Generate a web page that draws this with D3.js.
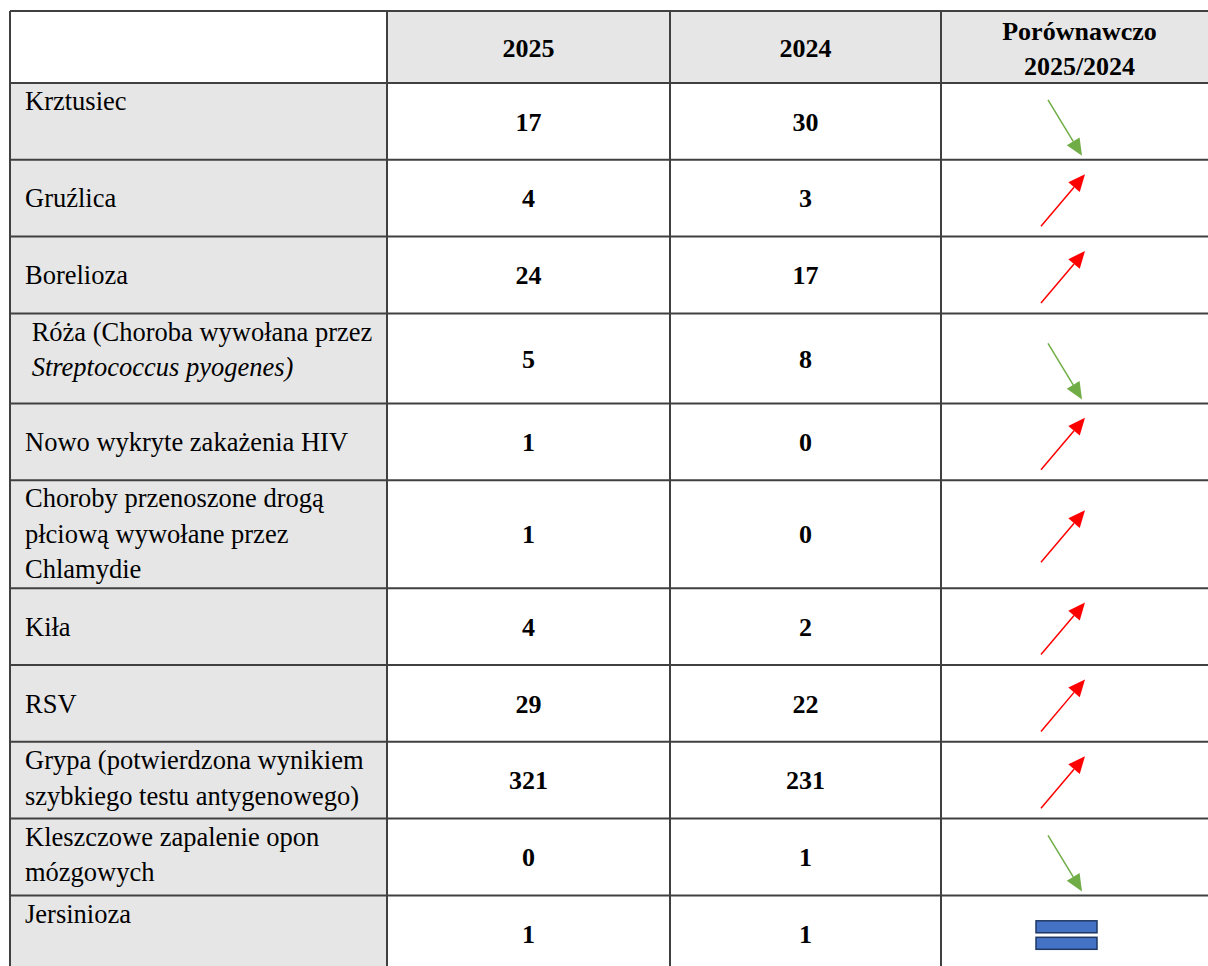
<!DOCTYPE html>
<html>
<head>
<meta charset="utf-8">
<script src="https://cdn.jsdelivr.net/npm/d3@7"></script>
<style>
  html, body { margin: 0; padding: 0; background: #fff; }
  svg text { font-family: "Liberation Serif", "Times New Roman", serif; white-space: pre; }
</style>
</head>
<body>
<svg id="tabela"></svg>
<script>
// dane z tabeli
const headers = ["", "2025", "2024", ["Porównawczo", "2025/2024"]];

// linie etykiet (prefiks "_" = kursywa)
const categoryLines = [
  ["Krztusiec"],
  ["Gruźlica"],
  ["Borelioza"],
  [" Róża (Choroba wywołana przez", "_ Streptococcus pyogenes)"],
  ["Nowo wykryte zakażenia HIV"],
  ["Choroby przenoszone drogą", "płciową wywołane przez", "Chlamydie"],
  ["Kiła"],
  ["RSV"],
  ["Grypa (potwierdzona wynikiem", "szybkiego testu antygenowego)"],
  ["Kleszczowe zapalenie opon", "mózgowych"],
  ["Jersinioza"]
];
const values2025 = [17, 4, 24, 5, 1, 1, 4, 29, 321, 0, 1];
const values2024 = [30, 3, 17, 8, 0, 0, 2, 22, 231, 1, 1];

const width = 1208;
const height = 966;

const svg = d3.select("#tabela").attr("width", width).attr("height", height);

// układ kolumn i wierszy
const colEdges = [10, 387, 670, 941, 1218];
const headerHeight = 72;
const rowHeights = categoryLines.map(l => l.length === 3 ? 108 : (l[0].startsWith(" ") ? 90 : 76.8));
const rowTops = [11 + headerHeight, ...d3.cumsum(rowHeights).map(h => 11 + headerHeight + h)];

const colX = d3.scaleOrdinal().domain([0, 1, 2, 3]).range(colEdges.slice(0, 4));
const colW = i => colEdges[i + 1] - colEdges[i];
const rowY = d3.scaleOrdinal().domain(d3.range(categoryLines.length)).range(rowTops);

const gray = "#e6e6e6";
const border = "#404040";
const lineH = 35.5;
const topAligned = new Set(["Krztusiec", "Jersinioza"]);

// tło nagłówka
svg.selectAll("rect.head")
  .data(d3.range(4))
  .enter()
  .append("rect")
  .attr("x", i => colX(i))
  .attr("y", 11)
  .attr("width", i => colW(i))
  .attr("height", headerHeight)
  .attr("fill", i => i === 0 ? "#fff" : gray);

// tło kolumny z nazwami
svg.selectAll("rect.lab")
  .data(categoryLines)
  .enter()
  .append("rect")
  .attr("x", colX(0))
  .attr("y", (d, i) => rowY(i))
  .attr("width", colW(0))
  .attr("height", (d, i) => rowHeights[i])
  .attr("fill", gray);

// teksty nagłówka
headers.forEach((h, i) => {
  if (!h) return;
  const lines = Array.isArray(h) ? h : [h];
  const cy = 11 + headerHeight / 2 + 1;
  lines.forEach((t, j) => {
    svg.append("text")
      .attr("x", colX(i) + colW(i) / 2)
      .attr("y", cy + (j - (lines.length - 1) / 2) * 35)
      .attr("dy", "0.35em")
      .attr("text-anchor", "middle")
      .attr("font-size", 26)
      .attr("font-weight", "bold")
      .text(t);
  });
});

// etykiety wierszy
categoryLines.forEach((lines, i) => {
  const top = rowY(i);
  const h = rowHeights[i];
  const centered = lines.length === 1 && !topAligned.has(lines[0]);
  lines.forEach((t, j) => {
    const italic = t.startsWith("_");
    const y = centered ? top + h / 2 : top + 18 + j * lineH;
    svg.append("text")
      .attr("x", colX(0) + 15)
      .attr("y", y)
      .attr("dy", "0.35em")
      .attr("font-size", 26.5)
      .attr("font-style", italic ? "italic" : "normal")
      .text(italic ? t.slice(1) : t);
  });
});

// wartości liczbowe
[values2025, values2024].forEach((vals, c) => {
  svg.selectAll(null)
    .data(vals)
    .enter()
    .append("text")
    .attr("x", colX(c + 1) + colW(c + 1) / 2)
    .attr("y", (d, i) => rowY(i) + rowHeights[i] / 2)
    .attr("dy", "0.35em")
    .attr("text-anchor", "middle")
    .attr("font-size", 26)
    .attr("font-weight", "bold")
    .text(d => d);
});

// strzałki trendu
function arrow(x1, y1, x2, y2, color) {
  const ang = Math.atan2(y2 - y1, x2 - x1);
  const len = 17, half = 7.5;
  const bx = x2 - len * Math.cos(ang), by = y2 - len * Math.sin(ang);
  svg.append("line")
    .attr("x1", x1).attr("y1", y1).attr("x2", bx).attr("y2", by)
    .attr("stroke", color).attr("stroke-width", 1.5);
  const px = -Math.sin(ang) * half, py = Math.cos(ang) * half;
  svg.append("path")
    .attr("d", `M${x2},${y2}L${bx + px},${by + py}L${bx - px},${by - py}Z`)
    .attr("fill", color);
}

values2025.forEach((v, i) => {
  const top = rowY(i);
  const h = rowHeights[i];
  const x0 = colX(3);
  const cy = top + h / 2;
  const prev = values2024[i];
  if (v > prev) {
    arrow(x0 + 100, cy + 28, x0 + 144, cy - 24, "#ff0000");
  } else if (v < prev) {
    arrow(x0 + 107, top + h - 60, x0 + 141, top + h - 4, "#70ad47");
  } else {
    [0, 1].forEach(k => {
      svg.append("rect")
        .attr("x", x0 + 95)
        .attr("y", cy - 13 + k * 16.5)
        .attr("width", 61)
        .attr("height", 12)
        .attr("fill", "#4472c4")
        .attr("stroke", "#1f3864")
        .attr("stroke-width", 1.5);
    });
  }
});

// linie siatki
const bottom = rowY(categoryLines.length - 1) + rowHeights[rowHeights.length - 1];
const hLines = [11, ...rowTops];
svg.selectAll("line.h")
  .data(hLines)
  .enter()
  .append("line")
  .attr("x1", colEdges[0]).attr("x2", colEdges[4])
  .attr("y1", d => d).attr("y2", d => d)
  .attr("stroke", border).attr("stroke-width", 2);

svg.selectAll("line.v")
  .data(colEdges)
  .enter()
  .append("line")
  .attr("x1", d => d).attr("x2", d => d)
  .attr("y1", 11).attr("y2", bottom)
  .attr("stroke", border).attr("stroke-width", 2);
</script>
</body>
</html>
